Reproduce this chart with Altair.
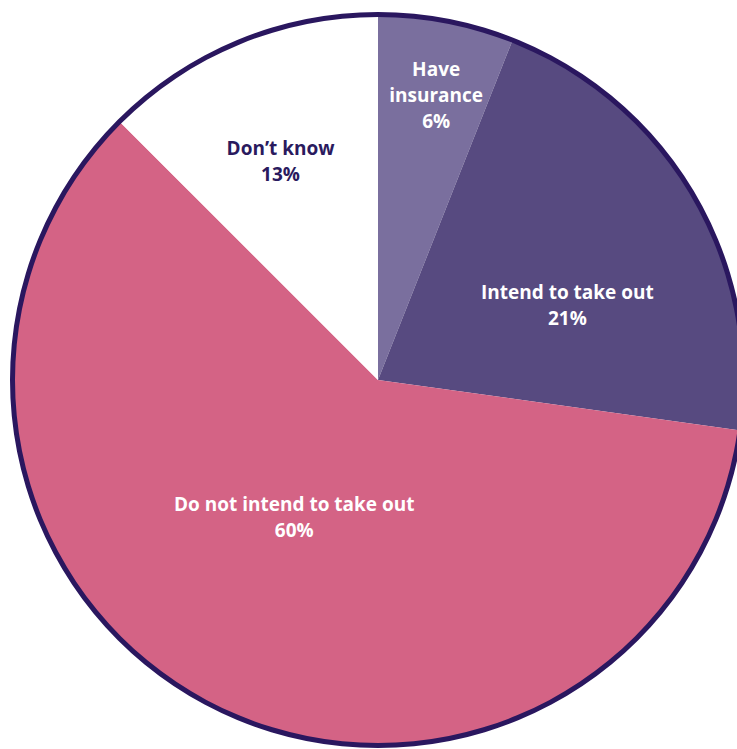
import altair as alt
import pandas as pd
import math

categories = ["Have insurance", "Intend to take out", "Do not intend to take out", "Don’t know"]
values = [6.0, 21.2, 60.3, 12.5]
label_names = ["Have\ninsurance", "Intend to take out", "Do not intend to take out", "Don’t know"]
pct_labels = ["6%", "21%", "60%", "13%"]
colors = ["#7a6f9e", "#574a80", "#d46385", "#ffffff"]

df = pd.DataFrame({
    "idx": list(range(len(categories))),
    "category": categories,
    "value": values,
    "label": [f"{n}\n{p}" for n, p in zip(label_names, pct_labels)],
})

CX, CY = 378, 380
border = "#2a175f"
LH = 26

base = alt.Chart(df).encode(
    theta=alt.Theta("value:Q", stack=True),
    order=alt.Order("idx:Q", sort="ascending"),
    x=alt.value(CX),
    y=alt.value(CY),
)

pie = base.mark_arc(radius=366, stroke=None).encode(
    color=alt.Color("category:N", scale=alt.Scale(domain=categories, range=colors), legend=None)
)

ring = alt.Chart(pd.DataFrame({"v": [1]})).mark_arc(
    radius=368, radius2=363, theta=0, theta2=2 * math.pi, color=border
).encode(x=alt.value(CX), y=alt.value(CY))

label_cfg = [
    (0, 289, 4, 0, "#ffffff", 3),
    (1, 203, 14, 28, "#ffffff", 2),
    (2, 161, -12, -6, "#ffffff", 2),
    (3, 239, -6, 3, "#2a1a5e", 2),
]

layers = [pie, ring]
for i, r, dx, dy, col, nlines in label_cfg:
    layers.append(
        base.mark_text(
            radius=r, dx=dx, dy=dy - (nlines - 1) * LH / 2, lineBreak="\n", fontSize=19,
            fontWeight="bold", font="Open Sans", color=col, align="center",
            baseline="middle", lineHeight=LH,
        ).encode(text=alt.condition(f"datum.idx == {i}", alt.Text("label:N"), alt.value("")))
    )

chart = alt.layer(*layers).properties(
    width=737, height=749, padding=0, autosize=alt.AutoSizeParams(type="none"),
    background="#ffffff",
).configure_view(stroke=None)

chart.save("out.html", embed_options={"renderer": "svg", "actions": False})
